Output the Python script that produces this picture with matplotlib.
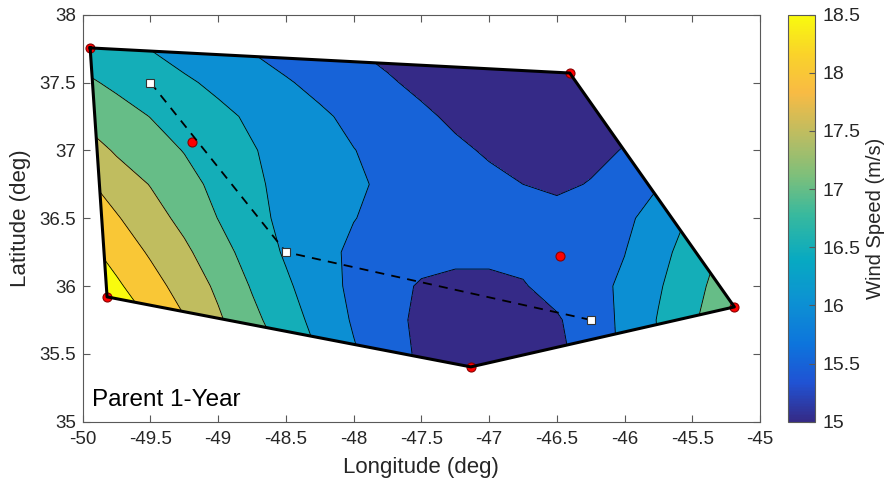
import numpy as np
import matplotlib
matplotlib.use('Agg')
import matplotlib.pyplot as plt
from matplotlib.colors import LinearSegmentedColormap, Normalize
from matplotlib.patches import Polygon
from matplotlib.ticker import FuncFormatter

plt.rcParams['font.family'] = ['Liberation Sans', 'DejaVu Sans']

# gridded wind speed (m/s), rows = latitude, cols = longitude
grid_lon = np.linspace(-50, -45, 21)
grid_lat = np.linspace(35.25, 37.75, 11)
speed = np.array([
    [19.8, 19.5, 19.2, 18.8, 18.3, 17.7, 17.1, 16.6, 16.1, 15.75, 15.45, 15.32, 15.28, 15.3, 15.42, 15.7, 16.1, 16.5, 16.9, 17.3, 17.6],
    [19.5, 19.2, 18.9, 18.4, 17.9, 17.4, 16.9, 16.47, 16.05, 15.71, 15.42, 15.30, 15.26, 15.28, 15.40, 15.69, 16.1, 16.5, 16.9, 17.3, 17.6],
    [19.3, 18.88, 18.47, 18.03, 17.57, 17.13, 16.72, 16.33, 15.95, 15.65, 15.40, 15.30, 15.28, 15.32, 15.45, 15.76, 16.10, 16.53, 16.94, 17.3, 17.6],
    [18.95, 18.58, 18.19, 17.80, 17.41, 16.96, 16.58, 16.21, 15.90, 15.67, 15.45, 15.38, 15.38, 15.47, 15.66, 15.85, 16.08, 16.45, 16.84, 17.23, 17.6],
    [18.68, 18.31, 17.94, 17.60, 17.19, 16.80, 16.44, 16.12, 15.93, 15.80, 15.68, 15.62, 15.62, 15.62, 15.65, 15.78, 15.99, 16.34, 16.73, 17.1, 17.4],
    [18.41, 18.04, 17.71, 17.36, 16.99, 16.64, 16.39, 16.20, 16.01, 15.90, 15.80, 15.72, 15.66, 15.63, 15.64, 15.72, 15.90, 16.21, 16.57, 16.9, 17.2],
    [18.11, 17.78, 17.48, 17.17, 16.87, 16.58, 16.38, 16.22, 16.06, 15.93, 15.82, 15.71, 15.60, 15.50, 15.43, 15.52, 15.72, 15.98, 16.2, 16.4, 16.6],
    [17.79, 17.44, 17.21, 16.98, 16.75, 16.53, 16.35, 16.18, 16.01, 15.87, 15.72, 15.58, 15.45, 15.37, 15.34, 15.40, 15.52, 15.65, 15.8, 16.0, 16.2],
    [17.40, 17.20, 16.99, 16.80, 16.61, 16.43, 16.25, 16.07, 15.90, 15.74, 15.58, 15.42, 15.30, 15.22, 15.20, 15.25, 15.38, 15.52, 15.7, 15.9, 16.1],
    [17.10, 16.90, 16.74, 16.57, 16.40, 16.22, 16.04, 15.88, 15.71, 15.55, 15.40, 15.30, 15.22, 15.17, 15.15, 15.15, 15.2, 15.3, 15.5, 15.7, 15.9],
    [16.78, 16.64, 16.49, 16.31, 16.17, 15.97, 15.82, 15.66, 15.51, 15.38, 15.28, 15.22, 15.18, 15.16, 15.15, 15.15, 15.15, 15.2, 15.3, 15.5, 15.7],
])

# buoy stations (red dots); hull goes through the outer ones
station_lon = [-49.945, -46.405, -45.19, -47.135, -49.82, -49.19, -46.48]
station_lat = [37.755, 37.57, 35.846, 35.404, 35.92, 37.06, 36.22]
hull_idx = [0, 1, 2, 3, 4]

# track (white squares)
track_lon = [-49.5, -48.5, -46.25]
track_lat = [37.5, 36.25, 35.75]

levels = [15, 15.5, 16, 16.5, 17, 17.5, 18, 18.5]
cb_ticks = [15, 15.5, 16, 16.5, 17, 17.5, 18, 18.5]

# parula-like colormap
parula = LinearSegmentedColormap.from_list('parula', [
    (0.0, (0.2081, 0.1663, 0.5292)),
    (6/63, (0.1253, 0.3242, 0.8303)),
    (12/63, (0.0498, 0.4586, 0.8641)),
    (19/63, (0.0488, 0.5772, 0.8228)),
    (25/63, (0.0267, 0.6642, 0.7607)),
    (32/63, (0.2178, 0.7250, 0.6193)),
    (38/63, (0.4871, 0.7491, 0.4840)),
    (44/63, (0.7184, 0.7411, 0.3905)),
    (51/63, (0.9739, 0.7314, 0.2666)),
    (57/63, (0.9788, 0.8271, 0.1633)),
    (1.0, (0.9763, 0.9831, 0.0538)),
])
norm = Normalize(15, 18.5)

fig = plt.figure(figsize=(8.89, 4.86), dpi=100)
ax = fig.add_axes([0.093, 0.1323, 0.762, 0.8375])
cax = fig.add_axes([0.886, 0.1323, 0.031, 0.8375])

hull_xy = np.column_stack([np.array(station_lon)[hull_idx], np.array(station_lat)[hull_idx]])
clip = Polygon(hull_xy, closed=True, transform=ax.transData)

band_colors = [parula(norm(l)) for l in levels]
cf = ax.contourf(grid_lon, grid_lat, speed, levels=levels + [30], colors=band_colors)
cl = ax.contour(grid_lon, grid_lat, speed, levels=levels, colors='k', linewidths=0.6)
cf.set_clip_path(clip)
cl.set_clip_path(clip)

ax.plot(station_lon, station_lat, 'o', ms=6.5, mfc='red', mec='#8b0000', mew=0.8, zorder=3)
ax.plot(np.append(hull_xy[:, 0], hull_xy[0, 0]), np.append(hull_xy[:, 1], hull_xy[0, 1]),
        'k-', lw=2.2, zorder=4)
ax.plot(track_lon, track_lat, 'k--', lw=1.3, dashes=(5, 4), zorder=5)
ax.plot(track_lon, track_lat, 's', ms=5.5, mfc='white', mec='0.2', mew=0.8, zorder=6)

ax.text(-49.93, 35.16, 'Parent 1-Year', fontsize=17.5, color='k', va='center', ha='left')

ax.set_xlim(-50, -45)
ax.set_ylim(35, 38)
ax.set_xticks(np.arange(-50, -44.9, 0.5))
ax.set_yticks(np.arange(35, 38.1, 0.5))
fmt = FuncFormatter(lambda v, p: f'{v:g}')
ax.xaxis.set_major_formatter(fmt)
ax.yaxis.set_major_formatter(fmt)
ax.tick_params(direction='in', top=True, right=True, length=5, width=0.8,
               color='0.35', labelcolor='0.15', labelsize=13.5)
ax.tick_params(axis='x', pad=7)
ax.tick_params(axis='y', pad=5)
for s in ax.spines.values():
    s.set_color('0.35')
    s.set_linewidth(0.8)
ax.set_xlabel('Longitude (deg)', fontsize=16, color='0.15', labelpad=6)
ax.set_ylabel('Latitude (deg)', fontsize=16, color='0.15', labelpad=6)

sm = plt.cm.ScalarMappable(norm=norm, cmap=parula)
cb = fig.colorbar(sm, cax=cax, ticks=cb_ticks)
cb.ax.yaxis.set_major_formatter(fmt)
cb.ax.tick_params(direction='in', length=4, width=0.8, color='0.35', labelcolor='0.15',
                  labelsize=14, pad=5)
cb.outline.set_edgecolor('0.35')
cb.outline.set_linewidth(0.8)
cb.set_label('Wind Speed (m/s)', fontsize=14.5, color='0.15', labelpad=4)

fig.savefig('out.png', dpi=100)
